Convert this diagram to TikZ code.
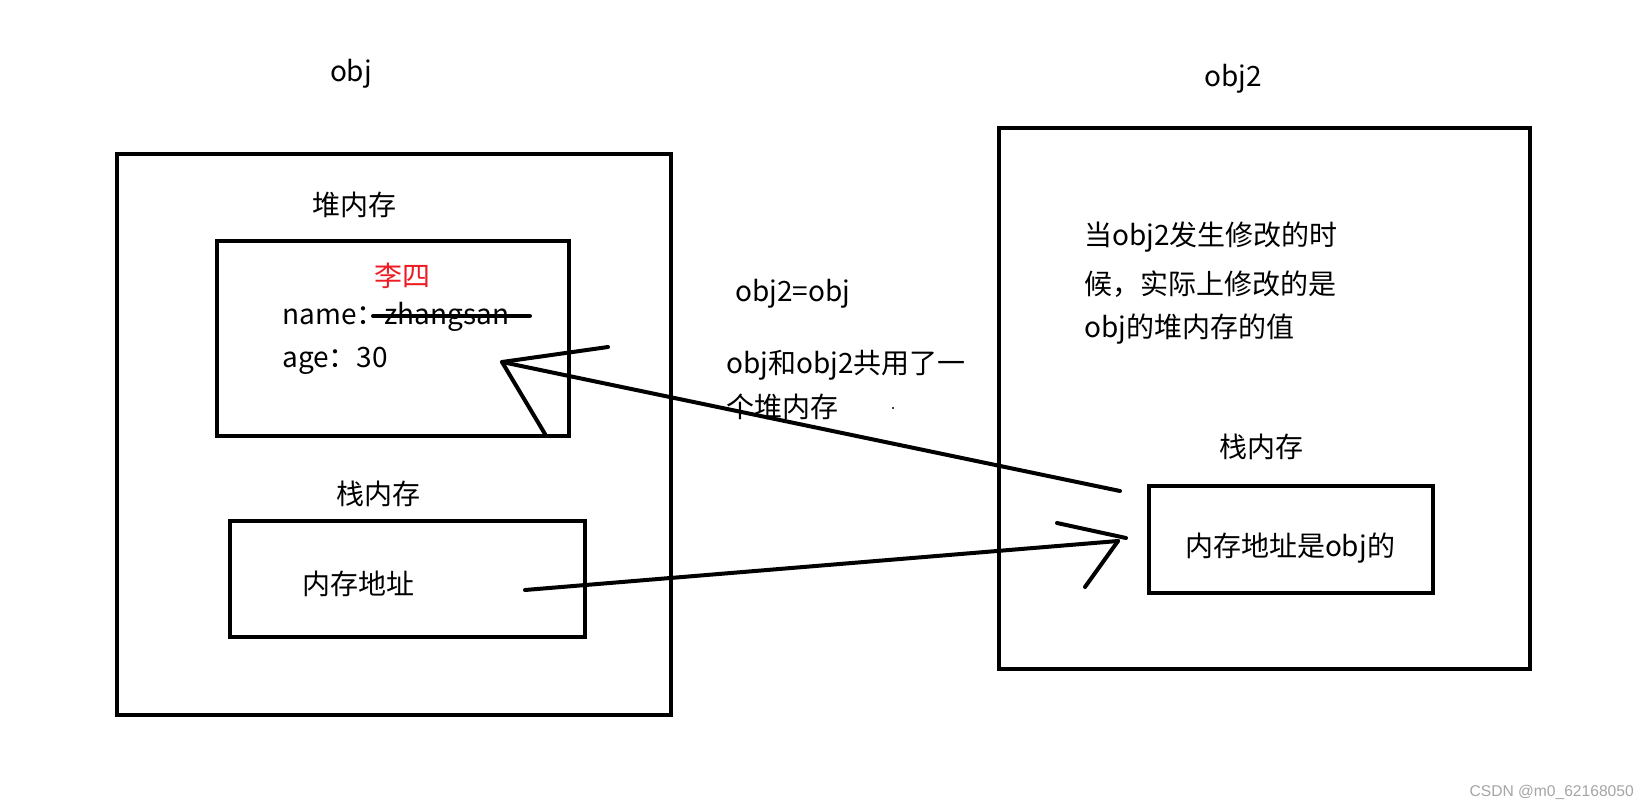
\documentclass[tikz,border=0pt]{standalone}
\usepackage{fontspec}
\setmainfont{Noto Sans CJK SC}
\newfontfamily\wmfont{Liberation Sans}
\begin{document}
\begin{tikzpicture}[x=0.75pt,y=-0.75pt,
  box/.style={draw=black,line width=3pt,inner sep=0pt,fill=none},
  lbl/.style={inner sep=0pt,font=\fontsize{21}{25}\selectfont},
  hand/.style={line width=3pt,line cap=round,line join=round}]
\useasboundingbox[fill=white] (0,0) rectangle (1649,810);
% boxes
\node[box,minimum width=415.5pt,minimum height=420.75pt] (L) at (394,434.5) {};
\node[box,minimum width=398.25pt,minimum height=405.75pt] (R) at (1264.5,398.5) {};
\node[box,minimum width=264pt,minimum height=146.25pt] (heap) at (393,338.5) {};
\node[box,minimum width=266.25pt,minimum height=87pt] (stackL) at (407.5,579) {};
\node[box,minimum width=213pt,minimum height=80.25pt] (stackR) at (1291,539.5) {};
% labels
\node[lbl] (tobj) at (351,74) {obj};
\node[lbl] (tobj2) at (1233,79) {obj2};
\node[lbl] (theap) at (354,205) {堆内存};
\node[lbl,text={rgb,255:red,237;green,28;blue,36}] (tls) at (402,276) {李四};
\node[lbl,anchor=west] (tname) at (282,317) {name：zhangsan};
\node[lbl,anchor=west] (tage) at (282,361) {age：30};
\node[lbl] (tstackL) at (378,494) {栈内存};
\node[lbl] (taddr) at (358,584) {内存地址};
\node[lbl,anchor=west] (tassign) at (735,294) {obj2=obj};
\node[lbl,anchor=west] (tshare1) at (726,365) {obj和obj2共用了一};
\node[lbl,anchor=west] (tshare2) at (726,407) {个堆内存};
\node[lbl,anchor=west] (tr1) at (1084,237) {当obj2发生修改的时};
\node[lbl,anchor=west] (tr2) at (1084,284) {候，实际上修改的是};
\node[lbl,anchor=west] (tr3) at (1084,329) {obj的堆内存的值};
\node[lbl] (tstackR) at (1261,447) {栈内存};
\node[lbl] (taddrR) at (1290,548) {内存地址是obj的};
\node[inner sep=0pt,anchor=east,text={rgb,255:red,165;green,165;blue,165},font=\wmfont\fontsize{11.7}{13}\selectfont] (wm) at (1634,792) {CSDN @m0\_62168050};
% strike-through
\coordinate (s1) at (373,316);
\coordinate (s2) at (530,316);
\draw[hand] (s1) -- (s2);
% upper arrow (stackR -> heap)
\coordinate (u0) at (1120,491);
\coordinate (ut) at (502,362);
\coordinate (uh1) at (608,347);
\coordinate (uh2) at (545,434);
\draw[hand] (u0) -- (ut);
\draw[hand] (uh1) -- (ut) -- (uh2);
% lower arrow (stackL -> stackR)
\coordinate (d0) at (525,590);
\coordinate (dt) at (1118,541);
\coordinate (dh1) at (1057,523);
\coordinate (dh1e) at (1126,538);
\coordinate (dh2) at (1085,587);
\draw[hand] (d0) -- (dt);
\draw[hand] (dh1) -- (dh1e);
\draw[hand] (dh2) -- (dt);
% stray dot
\fill (893,408) circle (0.8pt);
\end{tikzpicture}
\end{document}
